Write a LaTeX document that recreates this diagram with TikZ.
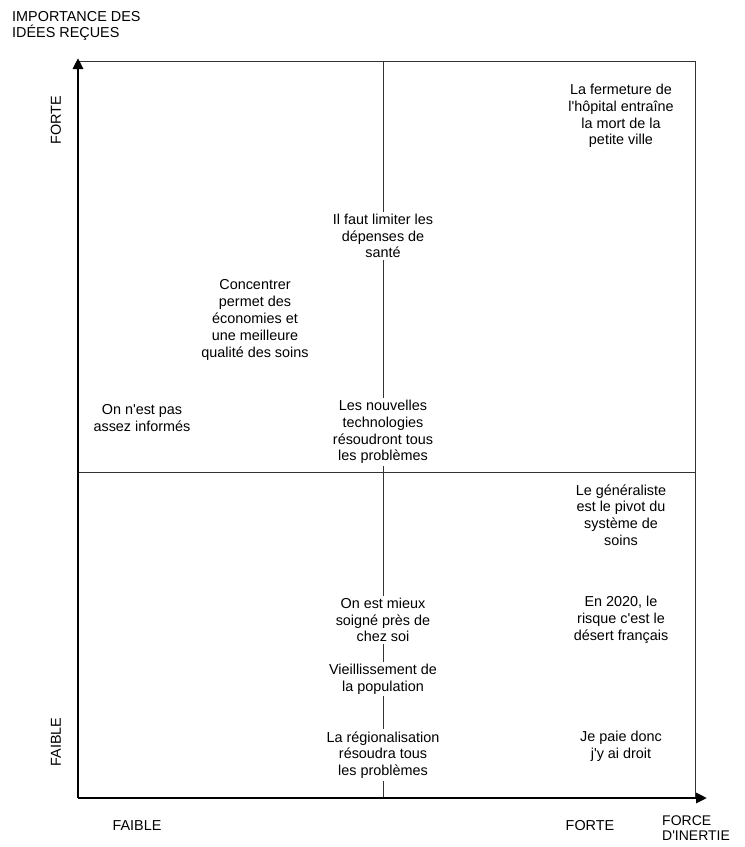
\documentclass[tikz,border=0pt]{standalone}
\usepackage{fontspec}
\setmainfont{Liberation Sans}[Ligatures=TeXOff]
\usetikzlibrary{arrows.meta}

\begin{document}
\begin{tikzpicture}[x=1pt, y=-1pt,
  every node/.style={font=\fontsize{14.4}{16.8}\selectfont, inner sep=2pt},
  idee/.style={fill=white, align=center},
  axe/.style={line width=2.8pt, -{Triangle[length=11pt, width=10pt]}},
  cadre/.style={line width=0.8pt, draw=black!80}]
\useasboundingbox (0,0) rectangle (745,847);
% axes and quadrants
\coordinate (origine) at (78,798);
\coordinate (haut) at (383,61);
\coordinate (bas) at (383,798);
\draw[cadre] (78,61) -- (695,61) -- (695,798);
\draw[cadre] (78,472) -- (695,472);
\draw[cadre] (haut) -- (bas);
\draw[axe] (origine) -- (78,58);
\draw[axe] (origine) -- (707,798);
% axis labels
\node[align=left, anchor=west] (titrey) at (10,26) {IMPORTANCE DES\\IDÉES REÇUES};
\node[align=left, anchor=west, inner sep=0pt, font=\fontsize{14}{15.6}\selectfont] (titrex) at (662,828) {FORCE\\D'INERTIE};
\node[rotate=90] (yforte) at (56,120) {FORTE};
\node[rotate=90] (yfaible) at (56,742) {FAIBLE};
\node (xfaible) at (137,826) {FAIBLE};
\node (xforte) at (590,826) {FORTE};
% ideas
\node[idee] (fermeture) at (621,116) {La fermeture de\\l'hôpital entraîne\\la mort de la\\petite ville};
\node[idee] (limiter) at (383,236) {Il faut limiter les\\dépenses de\\santé};
\node[idee] (concentrer) at (255,320) {Concentrer\\permet des\\économies et\\une meilleure\\qualité des soins};
\node[idee] (informes) at (142,418) {On n'est pas\\assez informés};
\node[idee] (technos) at (383,432) {Les nouvelles\\technologies\\résoudront tous\\les problèmes};
\node[idee] (generaliste) at (621,515) {Le généraliste\\est le pivot du\\système de\\soins};
\node[idee] (desert) at (621,620) {En 2020, le\\risque c'est le\\désert français};
\node[idee] (proximite) at (383,620) {On est mieux\\soigné près de\\chez soi};
\node[idee] (vieillissement) at (383,679) {Vieillissement de\\la population};
\node[idee] (regions) at (383,755) {La régionalisation\\résoudra tous\\les problèmes};
\node[idee] (droit) at (621,746) {Je paie donc\\j'y ai droit};
\end{tikzpicture}
\end{document}
